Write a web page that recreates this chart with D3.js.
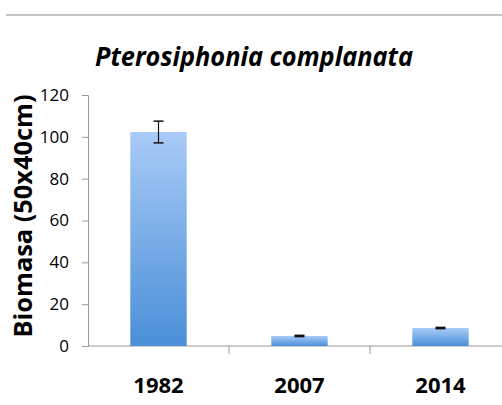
<!DOCTYPE html>
<html>
<head>
<meta charset="utf-8">
<script src="https://cdn.jsdelivr.net/npm/d3@7"></script>
<style>
  body { margin: 0; background: #fff; }
  svg { display: block; font-family: "Open Sans", sans-serif; }
</style>
</head>
<body>
<svg id="chart" width="502" height="405"></svg>
<script>
// chart data
const years = ['1982', '2007', '2014'];
const biomass = [102.3, 4.8, 8.6];
const errors = [5.2, 0.3, 0.3];
const yTicks = [0, 20, 40, 60, 80, 100, 120];

const svg = d3.select('#chart');
const margin = { left: 88, right: -9, top: 95, bottom: 59 };
const width = 502 - margin.left - margin.right;
const height = 405 - margin.top - margin.bottom;

// top separator line
svg.append('line')
    .attr('x1', 6).attr('x2', 502)
    .attr('y1', 15).attr('y2', 15)
    .attr('stroke', '#c4c4c4')
    .attr('stroke-width', 2);

// title (condensed a bit to mimic the original face)
svg.append('text')
    .attr('x', 254).attr('y', 66)
    .attr('text-anchor', 'middle')
    .attr('textLength', 318)
    .attr('lengthAdjust', 'spacingAndGlyphs')
    .style('font-size', '27px')
    .style('font-weight', 'bold')
    .style('font-style', 'italic')
    .text('Pterosiphonia complanata');

const defs = svg.append('defs');
const grad = defs.append('linearGradient')
    .attr('id', 'barGrad')
    .attr('x1', 0).attr('y1', 0).attr('x2', 0).attr('y2', 1);
grad.append('stop').attr('offset', '0%').attr('stop-color', '#a9cbf7');
grad.append('stop').attr('offset', '100%').attr('stop-color', '#4a8fd8');

const g = svg.append('g')
    .attr('transform', `translate(${margin.left},${margin.top})`);

const x = d3.scaleBand().domain(years).range([0, width]).paddingInner(0).paddingOuter(0);
const y = d3.scaleLinear().domain([0, 120]).range([height, 0]);

// y axis
const yAxis = g.append('g')
    .call(d3.axisLeft(y).tickValues(yTicks).tickSize(6).tickPadding(13));
yAxis.select('.domain').attr('stroke', '#999');
yAxis.selectAll('.tick line').attr('stroke', '#999');
yAxis.selectAll('.tick text')
    .style('font-size', '17px')
    .style('font-family', '"Open Sans", sans-serif')
    .attr('fill', '#000');

// x axis (ticks between categories)
const xAxisG = g.append('g').attr('transform', `translate(0,${height})`);
xAxisG.append('line')
    .attr('x1', 0).attr('x2', width)
    .attr('stroke', '#999');
xAxisG.selectAll('.sep')
    .data(years.slice(1))
    .enter().append('line')
    .attr('x1', d => x(d)).attr('x2', d => x(d))
    .attr('y1', 0).attr('y2', 8)
    .attr('stroke', '#999');
xAxisG.selectAll('.lbl')
    .data(years)
    .enter().append('text')
    .attr('x', d => x(d) + x.bandwidth() / 2)
    .attr('y', 47)
    .attr('text-anchor', 'middle')
    .style('font-size', '22px')
    .style('font-weight', 'bold')
    .text(d => d);

// bars
const barW = x.bandwidth() * 0.4;
g.selectAll('.bar')
    .data(years)
    .enter().append('rect')
    .attr('x', d => x(d) + (x.bandwidth() - barW) / 2)
    .attr('y', (d, i) => y(biomass[i]))
    .attr('width', barW)
    .attr('height', (d, i) => height - y(biomass[i]))
    .attr('fill', 'url(#barGrad)');

// error bars
const err = g.selectAll('.err')
    .data(years)
    .enter().append('g')
    .attr('transform', d => `translate(${x(d) + x.bandwidth() / 2},0)`);
err.append('line')
    .attr('y1', (d, i) => y(biomass[i] + errors[i]))
    .attr('y2', (d, i) => y(biomass[i] - errors[i]))
    .attr('stroke', '#111').attr('stroke-width', 1.2);
err.append('line')
    .attr('x1', -5).attr('x2', 5)
    .attr('y1', (d, i) => y(biomass[i] + errors[i]))
    .attr('y2', (d, i) => y(biomass[i] + errors[i]))
    .attr('stroke', '#111').attr('stroke-width', 1.5);
err.append('line')
    .attr('x1', -5).attr('x2', 5)
    .attr('y1', (d, i) => y(biomass[i] - errors[i]))
    .attr('y2', (d, i) => y(biomass[i] - errors[i]))
    .attr('stroke', '#111').attr('stroke-width', 1.5);

// y axis title
svg.append('text')
    .attr('transform', 'translate(32,216) rotate(-90)')
    .attr('text-anchor', 'middle')
    .attr('textLength', 243)
    .attr('lengthAdjust', 'spacingAndGlyphs')
    .style('font-size', '25px')
    .style('font-weight', 'bold')
    .text('Biomasa (50x40cm)');
</script>
</body>
</html>
